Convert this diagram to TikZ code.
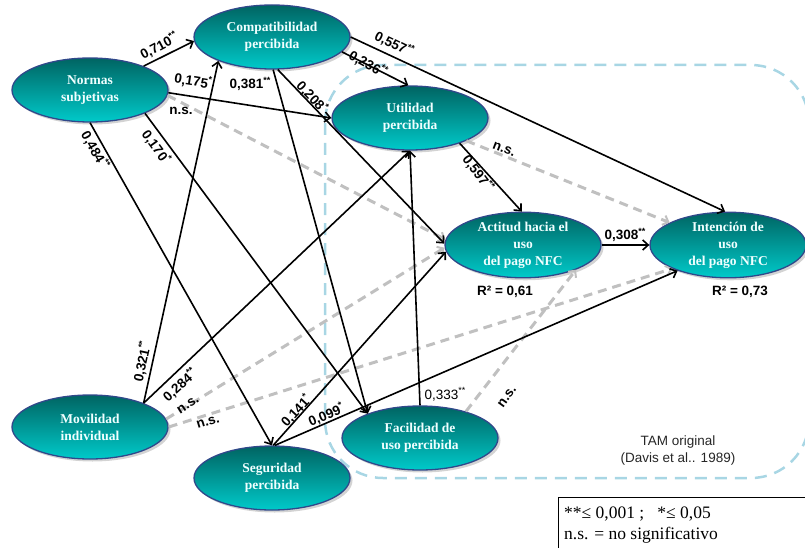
\documentclass[tikz,border=0pt]{standalone}
\usepackage{fontspec}
\setmainfont{Liberation Serif}
\newfontfamily\arialf{Liberation Sans}
\usetikzlibrary{shapes.geometric,arrows.meta,shadows}
\definecolor{tealtop}{RGB}{0,100,98}
\definecolor{tealbot}{RGB}{0,202,202}
\definecolor{ellborder}{RGB}{48,72,138}
\definecolor{nsgray}{RGB}{192,192,192}
\definecolor{tamblue}{RGB}{168,214,228}
\definecolor{nodetext}{RGB}{240,255,255}
\newcommand\sg[1]{\raisebox{0.42em}{\fontsize{9}{9}\selectfont #1}}
\begin{document}
\begin{tikzpicture}[x=1pt,y=-1pt,
  construct/.style={ellipse, minimum width=156pt, minimum height=64pt, inner sep=0pt,
    top color=tealtop, bottom color=tealbot, draw=ellborder, line width=1.3pt,
    drop shadow={opacity=0.35, shadow xshift=2.5pt, shadow yshift=-2.5pt},
    font=\fontsize{13.5}{17}\selectfont\bfseries, text=nodetext, align=center},
  sigpath/.style={draw=black, line width=1.6pt, -{Straight Barb[length=5.5pt,width=10pt]}},
  nspath/.style={draw=nsgray, line width=3pt, dash pattern=on 9pt off 6pt,
    -{Straight Barb[length=5pt,width=10pt,line width=2pt]}},
  coef/.style={font=\arialf\fontsize{13.5}{13.5}\selectfont\bfseries, inner sep=1pt},
  coefreg/.style={font=\arialf\fontsize{13.5}{13.5}\selectfont, inner sep=1pt},
  tamtext/.style={font=\arialf\fontsize{13.5}{17}\selectfont, text=black!85, align=center},
  legtext/.style={font=\fontsize{17.5}{21}\selectfont, anchor=west, inner sep=0pt}
]
\useasboundingbox (0,0) rectangle (805,548);

% TAM frame
\draw[tamblue, line width=2.5pt, dash pattern=on 12pt off 8pt, rounded corners=58pt]
  (325,65) rectangle (809,478);
\node[tamtext] (tam) at (678,451) {TAM original\\(Davis et al.. 1989)};

% constructs
\node[construct] (NS) at (90,90) {Normas\\subjetivas};
\node[construct] (CP) at (272,37) {Compatibilidad\\percibida};
\node[construct] (UP) at (410,118) {Utilidad\\percibida};
\node[construct] (AC) at (523,245) {Actitud hacia el\\uso\\del pago NFC};
\node[construct] (IN) at (728,245) {Intención de\\uso\\del pago NFC};
\node[construct] (MI) at (90,427) {Movilidad\\individual};
\node[construct] (SP) at (272,478) {Seguridad\\percibida};
\node[construct] (FU) at (420,438) {Facilidad de\\uso percibida};

% non-significant paths
\draw[nspath] (NS.-4) -- (AC.176);
\draw[nspath] (MI.6) -- (AC.182);
\draw[nspath] (MI.0) -- (IN.203);
\draw[nspath] (UP.-22) -- (IN.159);
\draw[nspath] (FU.30) -- (AC.-25);

% significant paths
\draw[sigpath] (NS.24) -- (CP.183);
\draw[sigpath] (NS.-2) -- (UP.180);
\draw[sigpath] (NS.270) -- (SP.90);
\draw[sigpath] (NS.337) -- (FU.155);
\draw[sigpath] (CP.-12) -- (UP.93);
\draw[sigpath] (CP.0) -- (IN.95);
\draw[sigpath] (CP.280) -- (AC.179);
\draw[sigpath] (CP.272) -- (FU.155);
\draw[sigpath] (MI.24) -- (CP.204);
\draw[sigpath] (MI.24) -- (UP.270);
\draw[sigpath] (SP.88) -- (AC.185);
\draw[sigpath] (SP.85) -- (IN.207);
\draw[sigpath] (UP.-27) -- (AC.92);
\draw[sigpath] (AC.0) -- (IN.180);
\draw[sigpath] (FU.90) -- (UP.270);

% coefficients
\node[coef, rotate=28] (l1) at (159,46) {0,710\sg{**}};
\node[coef, rotate=-9] (l2) at (193,81) {0,175\sg{*}};
\node[coef] (l3) at (181,111) {n.s.};
\node[coef, rotate=-60] (l4) at (95,150) {0,484\sg{**}};
\node[coef, rotate=-54] (l5) at (156,147) {0,170\sg{*}};
\node[coef] (l6) at (250,84) {0,381\sg{**}};
\node[coef, rotate=-47] (l7) at (312,97) {0,208\sg{*}};
\node[coef, rotate=-29] (l8) at (368,64) {0,236\sg{**}};
\node[coef, rotate=-26] (l9) at (394,44) {0,557\sg{**}};
\node[coef, rotate=-21] (l10) at (504,149) {n.s.};
\node[coef, rotate=-53] (l11) at (478,173) {0,597\sg{**}};
\node[coef] (l12) at (625,235) {0,308\sg{**}};
\node[coef] (r1) at (505,292) {R² = 0,61};
\node[coef] (r2) at (740,292) {R² = 0,73};
\node[coef, rotate=78] (l13) at (142,362) {0,321\sg{**}};
\node[coef, rotate=42] (l14) at (180,385) {0,284\sg{**}};
\node[coef, rotate=33] (l15) at (188,405) {n.s.};
\node[coef, rotate=17] (l16) at (208,422) {n.s.};
\node[coef, rotate=47] (l17) at (296,411) {0,141\sg{*}};
\node[coef, rotate=23] (l18) at (326,415) {0,099\sg{*}};
\node[coefreg] (l19) at (445,394) {0,333\sg{**}};
\node[coef, rotate=54] (l20) at (507,397) {n.s.};

% legend
\draw[black, line width=0.9pt] (558,497) rectangle (815,560);
\node[legtext] (leg1) at (564,514) {**≤ 0,001 ;\ \ \ *≤ 0,05};
\node[legtext] (leg2) at (564,535) {n.s. = no significativo};
\end{tikzpicture}
\end{document}
